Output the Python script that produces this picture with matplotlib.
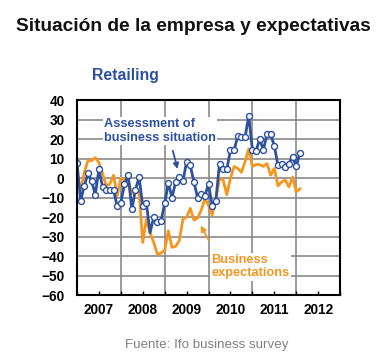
import numpy as np
import matplotlib
matplotlib.use("Agg")
import matplotlib.pyplot as plt
from matplotlib.ticker import FixedLocator, NullFormatter, FixedFormatter

plt.rcParams["font.family"] = ["Liberation Sans", "DejaVu Sans"]

# monthly values, Jan 2007 .. Feb 2012
situation = [8, -11.5, -4, 2.5, -1.5, -8.5, 4.5, -4.5, -6, -6, -6, -14.5, -12.5, -3, 1.5,
             -16, -6, 0.5, -14.5, -13, -28, -20, -22.5, -22, -13, -2.5, -10, -2, 0.5, -1.5,
             8.5, 6.5, -2, -10, -8, -9, -3, -14.5, -11.5, 7.5, 4.5, 4.5, 14.5, 14.5, 21.5,
             21, 21, 32, 14.5, 14, 20, 14.5, 22.5, 22.5, 16.5, 6.5, 7.5, 5.5, 7.5, 11, 6, 13]
expectations = [0, -6, 3, 9, 9, 10.5, 8, 2.5, -4, -3, 1.5, -9, 0, -1, -0.5, -8, -6, -7,
                -33, -21, -28, -33, -39, -38.5, -37, -27, -35.5, -35, -32, -21, -20, -15.5,
                -21.5, -20.5, -16.5, -10.5, -14, -19, -11, 0, -1, -8.5, 0, 6, 5, 3, 8.5, 15,
                6, 7, 7, 6, 7.5, 1.5, 5, -4, -2, -1, -4.5, 0.5, -7, -5.5]
years = [2007, 2008, 2009, 2010, 2011, 2012]
months = 2007 + np.arange(len(situation)) / 12.0

blue = "#2d509f"
orange = "#f7961e"
grid = "#8a8a8a"

fig = plt.figure(figsize=(3.83, 3.59), dpi=100)
ax = fig.add_axes([0.201, 0.178, 0.687, 0.543])

ax.plot(months, expectations, color=orange, lw=2.0, zorder=3)
marks = [i for i in range(len(situation)) if i != 20]
ax.plot(months, situation, color=blue, lw=2.0, marker="o", markersize=4.3,
        markerfacecolor="white", markeredgecolor=blue, markeredgewidth=1.0,
        markevery=marks, zorder=4)

ax.set_xlim(2007, 2013)
ax.set_ylim(-60, 40)
ax.set_yticks(np.arange(-60, 41, 10))
ax.xaxis.set_major_locator(FixedLocator(np.arange(2007, 2014)))
ax.xaxis.set_major_formatter(NullFormatter())
ax.xaxis.set_minor_locator(FixedLocator([y + 0.5 for y in years]))
ax.xaxis.set_minor_formatter(FixedFormatter([str(y) for y in years]))
ax.grid(True, which="major", color=grid, lw=1.2, zorder=1)
ax.set_axisbelow(True)
ax.tick_params(axis="y", length=0, pad=9, labelsize=9.8)
ax.tick_params(axis="x", which="both", direction="in", length=3, width=1, top=False)
ax.tick_params(axis="x", which="minor", pad=6, labelsize=9.8)
for lbl in ax.get_yticklabels() + ax.get_xticklabels(minor=True):
    lbl.set_fontweight("bold")
for s in ax.spines.values():
    s.set_linewidth(1.5)
    s.set_zorder(5)

ax.text(2007.34, 52.8, "Retailing", color=blue, fontsize=11.4, fontweight="bold",
        va="center", ha="left")
ax.text(2007.62, 24.2, "Assessment of\nbusiness situation", color=blue, fontsize=9.2,
        fontweight="bold", va="center", ha="left", linespacing=1.15, zorder=2,
        bbox=dict(fc="white", ec="none", pad=1))
ax.annotate("", xy=(2009.31, 3.3), xytext=(2009.17, 15.4),
            arrowprops=dict(arrowstyle="-|>", color=blue, lw=1.3, mutation_scale=8))
ax.text(2010.06, -45.4, "Business\nexpectations", color=orange, fontsize=9.2,
        fontweight="bold", va="center", ha="left", linespacing=1.15, zorder=2,
        bbox=dict(fc="white", ec="none", pad=1))
ax.annotate("", xy=(2009.79, -23.1), xytext=(2010.04, -33.3),
            arrowprops=dict(arrowstyle="-|>", color=orange, lw=1.3, mutation_scale=8))

fig.text(0.504, 0.925, "Situación de la empresa y expectativas", ha="center", va="center",
         fontsize=13.8, fontweight="bold", color="#111111")
fig.text(0.54, 0.039, "Fuente: Ifo business survey", ha="center", va="center",
         fontsize=9.6, color="#808080")

fig.savefig("out.png", dpi=100)
